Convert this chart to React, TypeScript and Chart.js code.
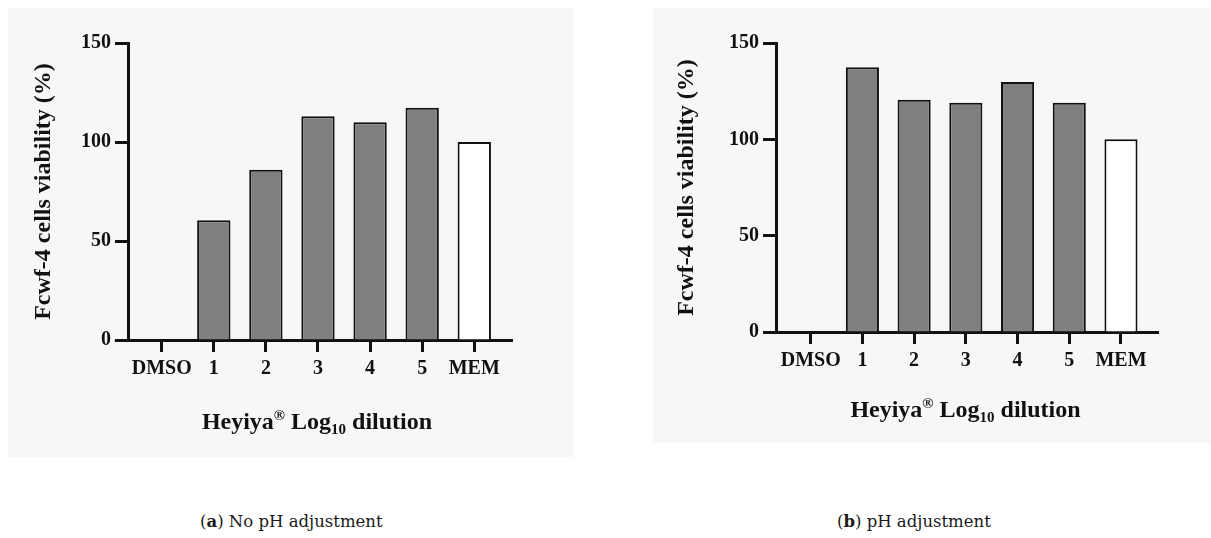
import React, { useEffect, useRef } from 'react';
import { Chart, registerables } from 'chart.js';

Chart.register(...registerables);

// ---- data ----
const categories = ['DMSO', '1', '2', '3', '4', '5', 'MEM'];
const viabilityNoPH = [0, 60.5, 86, 113, 110, 117.3, 100];
const viabilityPH = [0, 137.4, 120.5, 119, 129.8, 119, 100];
const yTickValues = [0, 50, 100, 150];
const yTitleText = 'Fcwf-4 cells viability (%)';
const xTitleTexts = ['Heyiya', '\u00AE', ' Log', '10', ' dilution'];
const captionA = ['a', ' No pH adjustment'];
const captionB = ['b', ' pH adjustment'];

const SERIF = '"Liberation Serif", "Times New Roman", serif';
const INK = '#111111';
const GRAY = '#7f7f7f';

// style of each part of the x title: [font size, rise]
const xTitleStyle = [
  [24, 0],
  [15, 9],
  [24, 0],
  [15, -5],
  [24, 0],
];

function makeXTitlePlugin(offset: number, shift: number) {
  return {
    id: 'xTitleRich',
    afterDraw(chart: any) {
      const { ctx, chartArea } = chart;
      ctx.save();
      ctx.fillStyle = INK;
      ctx.textBaseline = 'alphabetic';
      ctx.textAlign = 'left';
      const widths = xTitleTexts.map((t, i) => {
        ctx.font = `bold ${xTitleStyle[i][0]}px ${SERIF}`;
        return ctx.measureText(t).width;
      });
      const total = widths.reduce((a, b) => a + b, 0);
      let x = (chartArea.left + chartArea.right) / 2 + shift - total / 2;
      const y = chartArea.bottom + offset;
      xTitleTexts.forEach((t, i) => {
        ctx.font = `bold ${xTitleStyle[i][0]}px ${SERIF}`;
        ctx.fillText(t, x, y - xTitleStyle[i][1]);
        x += widths[i];
      });
      ctx.restore();
    },
  };
}

function makeAxisStubPlugin(stubValue: number) {
  return {
    id: 'axisStub',
    afterDraw(chart: any) {
      const { ctx, chartArea } = chart;
      const xs = chart.scales.x;
      const from = xs.getPixelForValue(stubValue);
      const y = Math.round(chartArea.bottom - 1.5) + 1.5;
      ctx.save();
      ctx.strokeStyle = INK;
      ctx.lineWidth = 3;
      ctx.beginPath();
      ctx.moveTo(from, y);
      ctx.lineTo(chartArea.left + 1, y);
      ctx.stroke();
      ctx.restore();
    },
  };
}

type Geo = {
  padTop: number;
  padRight: number;
  yWidth: number;
  xHeight: number;
  xMin: number;
  xMax: number;
  yTitlePad: number;
  xTitleOffset: number;
  xTitleShift: number;
};

function buildConfig(values: number[], g: Geo): any {
  return {
    type: 'bar',
    data: {
      datasets: [
        {
          data: values.map((v, i) => ({ x: i, y: v })),
          backgroundColor: categories.map((c) => (c === 'MEM' ? '#ffffff' : GRAY)),
          borderColor: INK,
          borderWidth: 2,
          borderSkipped: 'start',
          barPercentage: 0.64,
          categoryPercentage: 1,
        },
      ],
    },
    options: {
      responsive: false,
      animation: false,
      layout: { padding: { top: g.padTop, right: g.padRight, left: 0, bottom: 0 } },
      plugins: { legend: { display: false }, tooltip: { enabled: false }, title: { display: false } },
      scales: {
        x: {
          type: 'linear',
          min: g.xMin,
          max: g.xMax,
          offset: false,
          z: 1,
          afterBuildTicks: (scale: any) => {
            scale.ticks = categories.map((_, i) => ({ value: i }));
          },
          afterFit: (scale: any) => {
            scale.height = g.xHeight;
          },
          grid: {
            display: true,
            offset: false,
            drawOnChartArea: false,
            drawTicks: true,
            tickLength: 12,
            tickWidth: 3,
            tickColor: INK,
          },
          border: { display: true, color: INK, width: 3 },
          ticks: {
            autoSkip: false,
            maxRotation: 0,
            minRotation: 0,
            padding: 5,
            color: INK,
            font: { family: SERIF, size: 20, weight: 'bold' },
            callback: (v: any) => categories[Math.round(Number(v))] ?? '',
          },
          title: { display: false },
        },
        y: {
          type: 'linear',
          min: 0,
          max: 150,
          z: 1,
          afterBuildTicks: (scale: any) => {
            scale.ticks = yTickValues.map((v) => ({ value: v }));
          },
          afterFit: (scale: any) => {
            scale.width = g.yWidth;
          },
          grid: {
            display: true,
            drawOnChartArea: false,
            drawTicks: true,
            tickLength: 13,
            tickWidth: 3,
            tickColor: INK,
          },
          border: { display: true, color: INK, width: 3 },
          ticks: {
            padding: 4,
            color: INK,
            font: { family: SERIF, size: 20, weight: 'bold' },
            callback: (v: any) => String(v),
          },
          title: {
            display: true,
            text: yTitleText,
            color: INK,
            font: { family: SERIF, size: 24, weight: 'bold' },
            padding: { top: g.yTitlePad, bottom: 0 },
          },
        },
      },
    },
    plugins: [makeXTitlePlugin(g.xTitleOffset, g.xTitleShift), makeAxisStubPlugin(-0.9)],
  };
}

const leftGeo: Geo = {
  padTop: 35,
  padRight: 61,
  yWidth: 120,
  xHeight: 117,
  xMin: -0.647,
  xMax: 6.724,
  yTitlePad: 21,
  xTitleOffset: 88.5,
  xTitleShift: -3,
};

const rightGeo: Geo = {
  padTop: 35,
  padRight: 52,
  yWidth: 123,
  xHeight: 111,
  xMin: -0.671,
  xMax: 6.716,
  yTitlePad: 19.5,
  xTitleOffset: 85,
  xTitleShift: -1.5,
};

export default function App() {
  const leftRef = useRef<HTMLCanvasElement | null>(null);
  const rightRef = useRef<HTMLCanvasElement | null>(null);

  useEffect(() => {
    const charts: Chart[] = [];
    if (leftRef.current) charts.push(new Chart(leftRef.current, buildConfig(viabilityNoPH, leftGeo)));
    if (rightRef.current) charts.push(new Chart(rightRef.current, buildConfig(viabilityPH, rightGeo)));
    return () => charts.forEach((c) => c.destroy());
  }, []);

  const captionStyle: React.CSSProperties = {
    position: 'absolute',
    top: 512,
    font: '16.5px "DejaVu Serif", serif',
    lineHeight: '20px',
    whiteSpace: 'nowrap',
    color: '#1a1a1a',
  };

  return (
    <div
      style={{
        position: 'absolute',
        left: 0,
        top: 0,
        width: 1211,
        height: 538,
        background: '#ffffff',
        overflow: 'hidden',
      }}
    >
      <canvas
        ref={leftRef}
        width={565}
        height={449}
        style={{ position: 'absolute', left: 8, top: 8, background: '#f7f7f7' }}
      />
      <canvas
        ref={rightRef}
        width={557}
        height={435}
        style={{ position: 'absolute', left: 653, top: 8, background: '#f7f7f7' }}
      />
      <div style={{ ...captionStyle, left: 200 }}>
        (<b>{captionA[0]}</b>){captionA[1]}
      </div>
      <div style={{ ...captionStyle, left: 837 }}>
        (<b>{captionB[0]}</b>){captionB[1]}
      </div>
    </div>
  );
}
